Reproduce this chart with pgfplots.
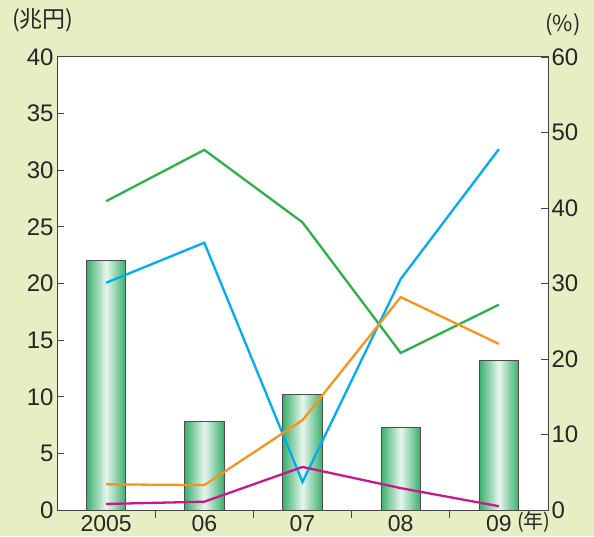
\documentclass[border=0pt]{standalone}
\usepackage{fontspec}
\setmainfont{Liberation Sans}
\newfontfamily\jp{Noto Sans CJK JP}
\usepackage{pgfplots}
\pgfplotsset{compat=1.18}
\definecolor{bg}{RGB}{230,239,196}
\definecolor{barg}{RGB}{58,176,108}
\definecolor{lgreen}{RGB}{44,176,74}
\definecolor{lblue}{RGB}{0,174,239}
\definecolor{lorange}{RGB}{247,148,29}
\definecolor{lmag}{RGB}{200,25,140}
\definecolor{axc}{RGB}{68,68,68}
\pgfplotsset{cyl/.style={draw=black!70, line width=0.8pt, left color=barg, right color=barg, middle color=barg!12!white}}
\begin{document}
\begin{tikzpicture}
\path[use as bounding box, fill=bg] (-57pt,-26pt) rectangle (537pt,510pt);
\begin{axis}[
 scale only axis, width=491pt, height=453pt,
 xmin=-0.5, xmax=4.5, ymin=0, ymax=40,
 axis background/.style={fill=white},
 axis line style={axc, line width=1pt},
 xtick={0,1,2,3,4},
 xticklabels={2005,06,07,08,09},
 minor xtick={0.5,1.5,2.5,3.5},
 major x tick style={draw=none},
 minor x tick style={draw=axc, line width=1pt},
 tick align=inside,
 minor tick length=8pt, major tick length=7pt,
 ytick={0,5,...,40}, ytick pos=left, xtick pos=bottom,
 y tick style={axc, line width=1pt},
 tick label style={font=\fontsize{24}{28}\selectfont, text=black!85},
 xticklabel style={yshift=5pt, font=\fontsize{23}{26}\selectfont},
 /pgf/number format/assume math mode=true,
 ybar, bar width=0.4, bar shift=0pt,
]
\addplot[cyl] coordinates {(0,22.0)};
\addplot[cyl] coordinates {(1,7.8)};
\addplot[cyl] coordinates {(2,10.2)};
\addplot[cyl] coordinates {(3,7.3)};
\addplot[cyl] coordinates {(4,13.2)};
\end{axis}
\begin{axis}[
 scale only axis, width=491pt, height=453pt,
 xmin=-0.5, xmax=4.5, ymin=0, ymax=60,
 axis x line=none, axis y line*=right,
 axis line style={axc, line width=1pt},
 ytick={0,10,...,60},
 tick align=inside, major tick length=7pt,
 y tick style={axc, line width=1pt},
 tick label style={font=\fontsize{24}{28}\selectfont, text=black!85},
 /pgf/number format/assume math mode=true,
]
\addplot[lgreen, line width=2.3pt] coordinates {(0,40.9)(1,47.7)(2,38.1)(3,20.8)(4,27.2)};
\addplot[lblue, line width=2.3pt] coordinates {(0,30.1)(1,35.4)(2,3.7)(3,30.6)(4,47.8)};
\addplot[lorange, line width=2.3pt] coordinates {(0,3.4)(1,3.3)(2,11.9)(3,28.2)(4,22.0)};
\addplot[lmag, line width=2.3pt] coordinates {(0,0.8)(1,1.1)(2,5.7)(3,2.9)(4,0.5)};
\end{axis}
\node[font=\jp\fontsize{23}{26}\selectfont, text=black!85] at (-14pt,490pt) {(兆円)};
\node[font=\jp\fontsize{22}{26}\selectfont, text=black!85] at (506pt,485pt) {(\%)};
\node[font=\jp\fontsize{20}{22}\selectfont, text=black!85, anchor=west, inner sep=1pt] at (459pt,-12pt) {(年)};
\end{tikzpicture}
\end{document}
